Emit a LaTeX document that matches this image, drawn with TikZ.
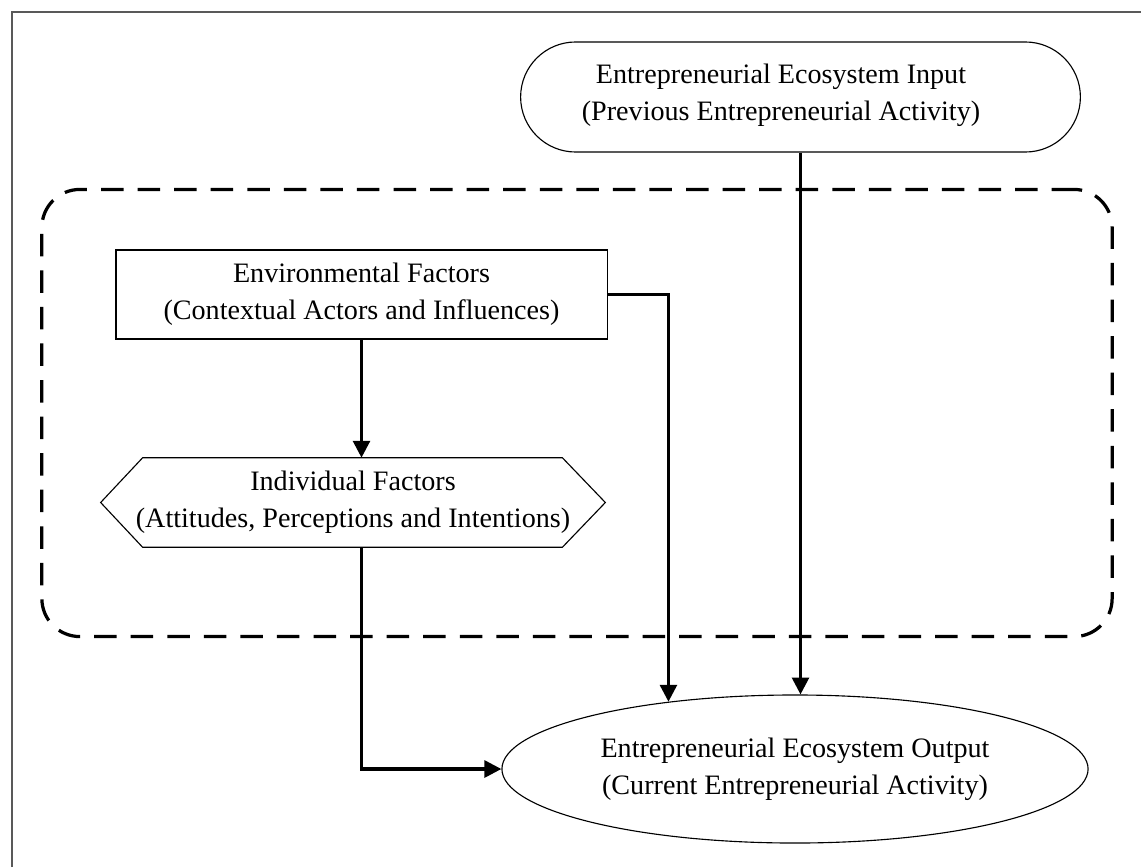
\documentclass[tikz,border=0pt]{standalone}
\usepackage{fontspec}
\setmainfont{Liberation Serif}
\usetikzlibrary{shapes.misc,shapes.geometric,arrows.meta,calc}

\begin{document}
\begin{tikzpicture}[x=0.025cm,y=-0.025cm,
  label text/.style={align=center,font=\fontsize{20}{26}\selectfont,inner sep=0pt},
  box/.style={label text,draw,line width=0.8pt},
  flow/.style={line width=2.2pt,-{Triangle[width=12pt,length=12pt]}},
  groupframe/.style={draw,line width=2.3pt,dash pattern=on 16pt off 10pt,rounded corners=0.95cm}]

\useasboundingbox (0,0) rectangle (1141,867);

% page frame (left and top edges only)
\draw[gray!70!black,line width=1pt] (12,867) -- (12,12) -- (1141,12);

% dashed ecosystem region
\node[groupframe,minimum width=26.75cm,minimum height=11.175cm] (grp) at (577,413) {};

% input terminator and its caption
\node[rounded rectangle,draw,line width=0.8pt,minimum width=14.225cm,minimum height=2.75cm] (in) at (800.5,97) {};
\node[label text] (inlbl) at (781,95)
  {Entrepreneurial Ecosystem Input\\(Previous Entrepreneurial Activity)};

\node[box,rectangle,minimum width=12.275cm,minimum height=2.225cm] (env) at (361.5,294.5)
  {Environmental Factors\\(Contextual Actors and Influences)};

% hexagonal individual-factors block
\node[label text,minimum width=12.6cm,minimum height=2.225cm] (ind) at (353,502.5)
  {Individual Factors\\(Attitudes, Perceptions and Intentions)};
\draw[line width=0.8pt] ($(ind.north west)+(42,0)$) -- ($(ind.north east)+(-43,0)$) -- (ind.east)
  -- ($(ind.south east)+(-43,0)$) -- ($(ind.south west)+(42,0)$) -- (ind.west) -- cycle;

\node[box,ellipse,minimum width=14.65cm,minimum height=3.7cm] (out) at (795,769)
  {Entrepreneurial Ecosystem Output\\(Current Entrepreneurial Activity)};

% connectors
\draw[flow] (in.south) -- (in.south |- out.north);
\draw[flow] (env.south) -- (env.south |- ind.north);
\draw[flow] (env.east) -| (out.152.4);
\draw[flow] (env.south |- ind.south) |- (out.west);
\end{tikzpicture}
\end{document}
